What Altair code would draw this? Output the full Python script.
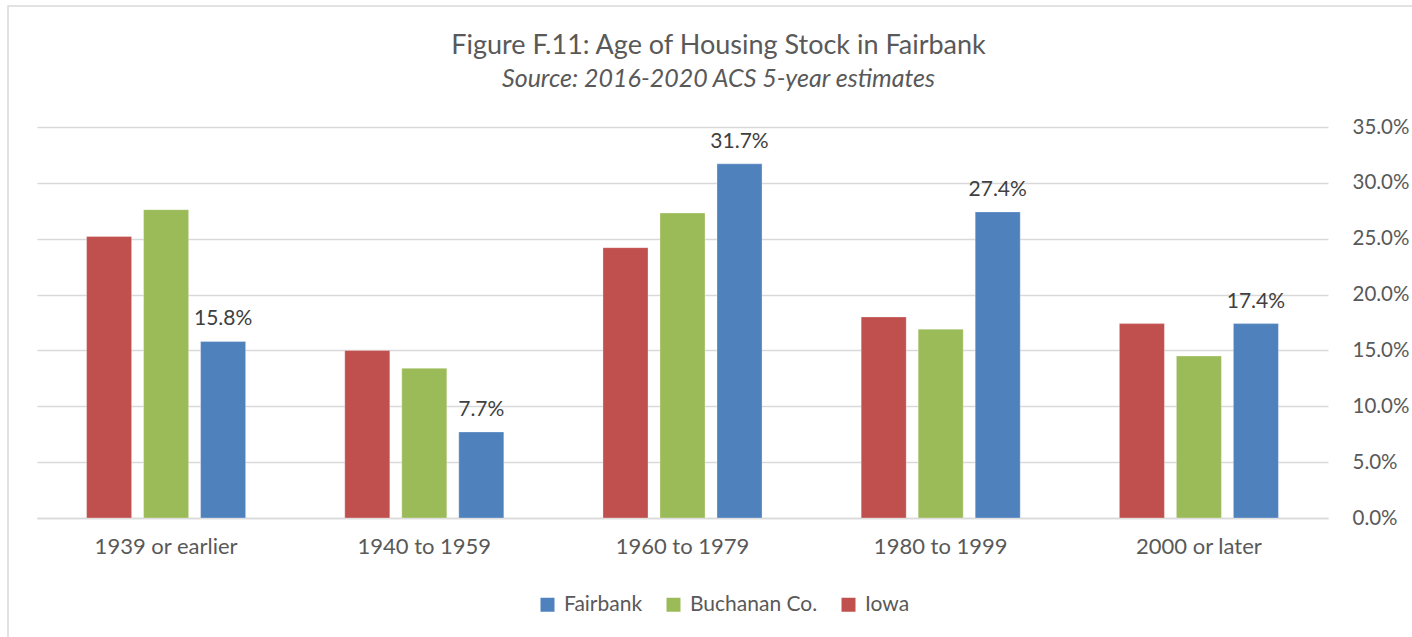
import altair as alt
import pandas as pd

categories = ["1939 or earlier", "1940 to 1959", "1960 to 1979", "1980 to 1999", "2000 or later"]
series_names = ["Fairbank", "Buchanan Co.", "Iowa"]
fairbank = [15.8, 7.7, 31.7, 27.4, 17.4]
buchanan = [27.6, 13.4, 27.3, 16.9, 14.5]
iowa = [25.2, 15.0, 24.2, 18.0, 17.4]
colors = ["#4F81BD", "#9BBB59", "#C0504D"]
bar_order = ["Iowa", "Buchanan Co.", "Fairbank"]
y_ticks = [0, 5, 10, 15, 20, 25, 30, 35]

rows = []
for name, vals in zip(series_names, [fairbank, buchanan, iowa]):
    for c, v in zip(categories, vals):
        rows.append({"category": c, "series": name, "value": v,
                     "label": f"{v:.1f}%" if name == "Fairbank" else ""})
df = pd.DataFrame(rows)

FONT = "Lato"
TXT = "#595959"
W, H = 1291, 391

x_enc = alt.X("category:N", sort=categories, title=None,
              scale=alt.Scale(paddingInner=0.384, paddingOuter=0.192),
              axis=alt.Axis(labelAngle=0, labelFontSize=22, labelColor=TXT, labelFont=FONT,
                            labelPadding=18, ticks=False, domain=True, domainColor="#D9D9D9",
                            domainWidth=1.3, grid=False))
xo_enc = alt.XOffset("series:N", sort=bar_order,
                     scale=alt.Scale(paddingInner=0.21, paddingOuter=0))
y_enc = alt.Y("value:Q", title=None,
              scale=alt.Scale(domain=[0, 35], nice=False),
              axis=alt.Axis(orient="right", values=y_ticks, labelExpr="format(datum.value, '.1f') + '%'",
                            labelFontSize=20.5, labelColor=TXT, labelFont=FONT, labelPadding=24,
                            labelAlign="left", ticks=False, domain=False,
                            gridColor="#D9D9D9", gridWidth=1.3))

bars = alt.Chart(df).mark_bar(stroke="white", strokeWidth=0.6, strokeOpacity=0.5).encode(
    x=x_enc, xOffset=xo_enc, y=y_enc,
    color=alt.Color("series:N", scale=alt.Scale(domain=series_names, range=colors),
                    legend=alt.Legend(title=None, orient="none", direction="horizontal",
                                      legendX=500, legendY=467, symbolType="square",
                                      symbolSize=196, symbolStrokeWidth=0, labelFontSize=21,
                                      labelFont=FONT, labelColor=TXT, labelOffset=6,
                                      columnPadding=20, padding=0)),
)

labels = alt.Chart(df).mark_text(baseline="bottom", dy=-12, fontSize=21, font=FONT,
                                 color="#404040").encode(
    x=x_enc,
    xOffset=xo_enc,
    y=y_enc,
    text="label:N",
)

border = alt.Chart(pd.DataFrame({"a": [0]})).mark_rect(
    fill=None, stroke="#D9D9D9", strokeWidth=1.5
).encode(x=alt.value(-29), x2=alt.value(1400), y=alt.value(-121), y2=alt.value(540))

chart = alt.layer(border, bars, labels).properties(
    width=W, height=H,
    background="white",
    title=alt.TitleParams(
        text="Figure F.11: Age of Housing Stock in Fairbank",
        subtitle="Source: 2016-2020 ACS 5-year estimates",
        fontSize=27, font=FONT, fontWeight="normal", color=TXT,
        subtitleFontSize=25, subtitleFont=FONT, subtitleFontStyle="italic",
        subtitleColor=TXT, subtitlePadding=7, anchor="middle", dx=36, offset=0, dy=88,
    ),
    autosize=alt.AutoSizeParams(type="none"),
    padding={"left": 37, "top": 127, "right": 84, "bottom": 119},
).configure_view(strokeWidth=0)

chart.save("out.html", embed_options={"renderer": "svg", "actions": False})
